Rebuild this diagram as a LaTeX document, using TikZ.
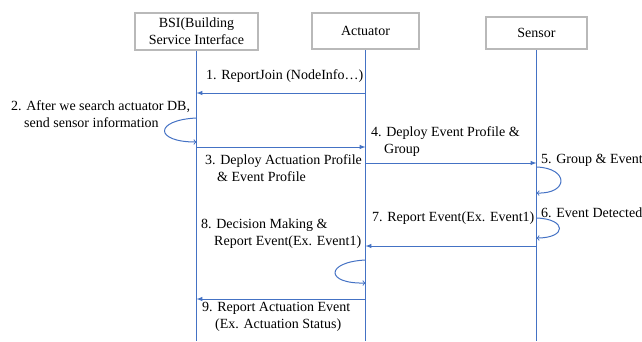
\documentclass[tikz,border=0pt]{standalone}
\usepackage{fontspec}
\setmainfont{Liberation Serif}

\definecolor{lineblue}{RGB}{68,114,196}
\definecolor{boxgray}{RGB}{185,185,185}

\tikzset{
    party/.style={draw=boxgray, line width=2pt, align=center, inner sep=0pt},
    life/.style={lineblue, line width=1pt},
    msg/.style={lineblue, line width=1pt, -latex},
    self/.style={lineblue, line width=1pt, -to},
    txt/.style={inner sep=0pt, anchor=west, align=left}
}

\begin{document}
\begin{tikzpicture}[x=1pt, y=-1pt, font=\fontsize{14}{17}\selectfont]
        \useasboundingbox (0, 0) rectangle (642, 341);

        \node[party, minimum width=123pt, minimum height=37pt] (bsi) at (196.5, 31.5) {BSI(Building\\Service Interface};
        \node[party, minimum width=107pt, minimum height=36pt] (act) at (365.5, 31) {Actuator};
        \node[party, minimum width=101pt, minimum height=32pt] (sen) at (536.5, 33) {Sensor};

        \draw[life] (bsi) -- (bsi |- 0, 341);
        \draw[life] (act) -- (act |- 0, 341);
        \draw[life] (sen) -- (sen |- 0, 341);

        \draw[msg] (act |- 0, 93) -- (bsi |- 0, 93);
        \node[txt] (m1) at (206, 76) {1. ReportJoin (NodeInfo…)};

        \draw[self] (bsi |- 0, 118) .. controls (154, 120) and (154, 142) .. (bsi |- 0, 142);
        \node[txt] (m2) at (11, 114) {2. After we search actuator DB,\\\hspace*{13pt}send sensor information};

        \draw[msg] (bsi |- 0, 147) -- (act |- 0, 147);
        \node[txt] (m3) at (205, 168.5) {3. Deploy Actuation Profile\\\hspace*{12pt}\& Event Profile};

        \draw[msg] (act |- 0, 163) -- (sen |- 0, 163);
        \node[txt] (m4) at (371, 142) {4. Deploy Event Profile \&\\\hspace*{13pt}Group};

        \draw[self] (sen |- 0, 167) .. controls (569, 168) and (569, 194) .. (sen |- 0, 193);
        \node[txt] (m5) at (541, 160) {5. Group \& Event};

        \draw[self] (sen |- 0, 218) .. controls (567, 219) and (567, 238) .. (sen |- 0, 238);
        \node[txt] (m6) at (541, 213) {6. Event Detected};

        \draw[msg] (sen |- 0, 246) -- (act |- 0, 246);
        \node[txt] (m7) at (372, 218) {7. Report Event(Ex. Event1)};

        \draw[self] (act |- 0, 260) .. controls (325, 262) and (325, 284) .. (act |- 0, 283);
        \node[txt] (m8) at (201, 233.5) {8. Decision Making \&\\\hspace*{13pt}Report Event(Ex. Event1)};

        \draw[msg] (act |- 0, 299) -- (bsi |- 0, 299);
        \node[txt] (m9) at (202, 316.5) {9. Report Actuation Event\\\hspace*{13pt}(Ex. Actuation Status)};
\end{tikzpicture}
\end{document}
